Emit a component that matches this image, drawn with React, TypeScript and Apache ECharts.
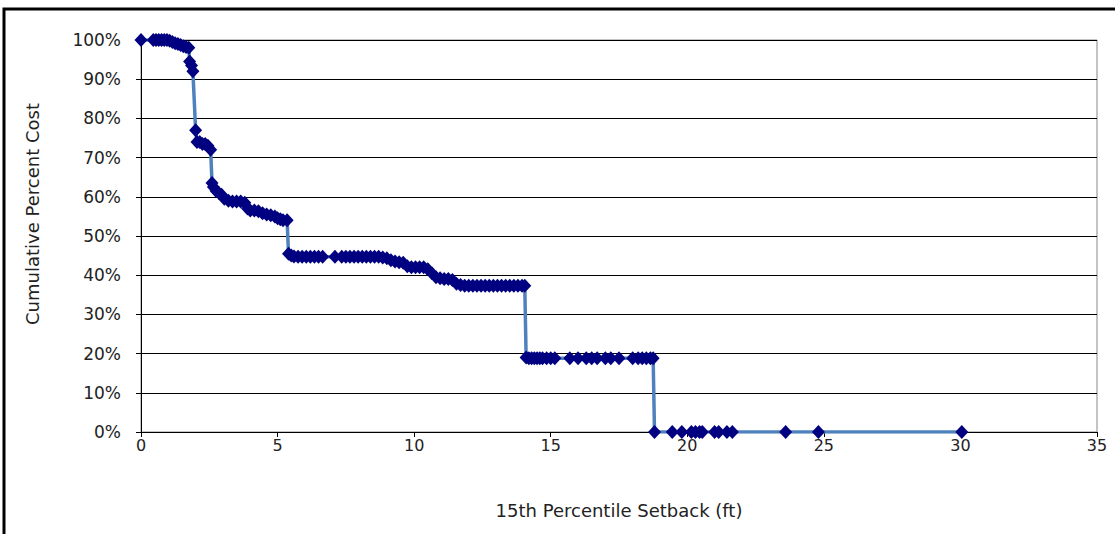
import React, { useEffect, useRef } from "react";
import * as echarts from "echarts";

const setbackFt: number[] = [
  0, 0.45, 0.55, 0.65, 0.75, 0.85, 0.95, 1.05, 1.15, 1.25, 1.35, 1.45, 1.55, 1.65, 1.75,
  1.78, 1.85, 1.9, 2.0, 2.05, 2.15, 2.25, 2.35, 2.45, 2.55,
  2.6, 2.65, 2.75, 2.85, 2.95, 3.05, 3.2, 3.35, 3.5, 3.65, 3.8, 3.9, 4.0, 4.15, 4.3, 4.45,
  4.6, 4.75, 4.9, 5.0, 5.1, 5.2, 5.35,
  5.4, 5.5, 5.6, 5.75, 5.9, 6.05, 6.2, 6.35, 6.5, 6.65, 7.1, 7.35, 7.5, 7.65, 7.8, 7.95,
  8.1, 8.25, 8.4, 8.55, 8.7, 8.85, 9.0, 9.15, 9.3, 9.45, 9.6, 9.75, 9.9, 10.05, 10.2, 10.35,
  10.5, 10.65, 10.8, 10.95, 11.1, 11.25, 11.4, 11.55, 11.7, 11.85, 12.0, 12.15, 12.3, 12.45,
  12.6, 12.75, 12.9, 13.05, 13.2, 13.35, 13.5, 13.65, 13.8, 13.95, 14.05,
  14.1, 14.2, 14.3, 14.4, 14.5, 14.6, 14.7, 14.85, 15.0, 15.15,
  15.7, 16.0, 16.3, 16.5, 16.7, 17.0, 17.2, 17.5,
  18.0, 18.2, 18.35, 18.5, 18.65, 18.75,
  18.8, 19.45, 19.8, 20.15, 20.3, 20.45, 20.55, 21.0, 21.15, 21.45, 21.65, 23.6, 24.8, 30.05,
];

const cumulativePct: number[] = [
  100, 100, 100, 100, 100, 100, 100, 99.8, 99.5, 99.2, 99, 98.7, 98.4, 98.2, 98,
  94.5, 93.5, 92, 77, 74, 74, 73.5, 73.5, 73, 72,
  63.5, 62.5, 61.5, 61, 60.5, 59.5, 59, 58.8, 58.8, 58.8, 58.5, 57, 56.5, 56.5, 56.3, 55.8,
  55.5, 55.3, 55, 54.5, 54.3, 54, 54,
  45.5, 45, 44.8, 44.7, 44.7, 44.7, 44.7, 44.7, 44.7, 44.7, 44.7, 44.7, 44.7, 44.7, 44.7, 44.7,
  44.7, 44.7, 44.7, 44.7, 44.7, 44.5, 44.3, 43.8, 43.5, 43.3, 43.2, 42.3, 42, 42, 42, 42,
  41.5, 40.5, 39.5, 39.2, 39, 39, 38.8, 37.8, 37.5, 37.3, 37.3, 37.3, 37.3, 37.3,
  37.3, 37.3, 37.3, 37.3, 37.3, 37.3, 37.3, 37.3, 37.3, 37.3, 37.3,
  19, 18.8, 18.8, 18.8, 18.8, 18.8, 18.8, 18.8, 18.8, 18.8,
  18.8, 18.8, 18.8, 18.8, 18.8, 18.8, 18.8, 18.8,
  18.8, 18.8, 18.8, 18.8, 18.8, 18.8,
  0, 0, 0, 0, 0, 0, 0, 0, 0, 0, 0, 0, 0, 0,
];

const xTitle = "15th Percentile Setback (ft)";
const yTitle = "Cumulative Percent Cost";

export default function App() {
  const ref = useRef<HTMLDivElement>(null);
  useEffect(() => {
    if (!ref.current) return;
    const chart = echarts.init(ref.current, null, { renderer: "svg" });
    const data = setbackFt.map((x, i) => [x, cumulativePct[i]]);
    const font = "DejaVu Sans";
    chart.setOption({
      animation: false,
      backgroundColor: "#ffffff",
      textStyle: { fontFamily: font },
      grid: {
        left: 141,
        right: 18,
        top: 40,
        bottom: 102,
        show: true,
        borderColor: "#888888",
        borderWidth: 1,
        backgroundColor: "transparent",
      },
      graphic: [
        {
          type: "rect",
          shape: { x: 4, y: 9, width: 1200, height: 700 },
          style: { fill: "none", stroke: "#000000", lineWidth: 3 },
          silent: true,
        },
      ],
      xAxis: {
        type: "value",
        min: 0,
        max: 35,
        interval: 5,
        name: xTitle,
        nameLocation: "middle",
        nameGap: 69,
        nameTextStyle: { color: "#222", fontSize: 18, fontFamily: font },
        axisLine: { show: true, lineStyle: { color: "#000", width: 1 } },
        axisTick: { show: true, length: 5, inside: false, lineStyle: { color: "#000" } },
        axisLabel: { color: "#222", fontSize: 16, margin: 5, fontFamily: font },
        splitLine: { show: false },
      },
      yAxis: {
        type: "value",
        min: 0,
        max: 100,
        interval: 10,
        name: yTitle,
        nameLocation: "middle",
        nameGap: 100,
        nameRotate: 90,
        nameTextStyle: { color: "#222", fontSize: 18, fontFamily: font, padding: [0, 0, 0, 44] },
        axisLine: { show: true, lineStyle: { color: "#000", width: 1 } },
        axisTick: { show: true, length: 5, inside: false, lineStyle: { color: "#000" } },
        axisLabel: { color: "#222", fontSize: 17, margin: 20, formatter: "{value}%", fontFamily: font },
        splitLine: { show: true, lineStyle: { color: "#000", width: 1 } },
      },
      series: [
        {
          type: "line",
          data,
          symbol: "diamond",
          symbolSize: [13, 14],
          itemStyle: { color: "#000080", borderWidth: 0 },
          lineStyle: { color: "#4f81bd", width: 3.5 },
          z: 3,
        },
      ],
    });
    return () => chart.dispose();
  }, []);
  return (
    <div
      ref={ref}
      style={{ position: "absolute", left: 0, top: 0, width: 1115, height: 534 }}
    />
  );
}
